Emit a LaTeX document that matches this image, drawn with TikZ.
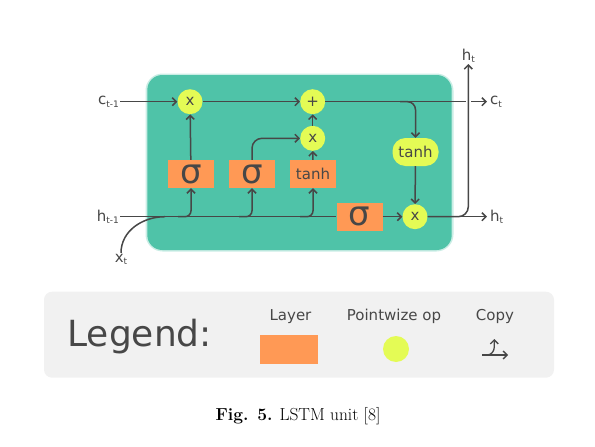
\documentclass[tikz,border=0pt]{standalone}
\usepackage{fontspec}
\usepackage{tikz}
\usetikzlibrary{arrows.meta}
\usepackage{xcolor}

\newfontfamily\diagfont{DejaVu Sans}
\newcommand{\lblsub}[1]{\raisebox{-0.3ex}{\fontsize{9}{9}\selectfont #1}}

\definecolor{cellteal}{HTML}{4FC3A8}
\definecolor{layerorange}{HTML}{FF9955}
\definecolor{opyellow}{HTML}{E4FB55}
\definecolor{inkgray}{HTML}{474747}
\definecolor{legendgray}{HTML}{F1F1F1}

\begin{document}
\begin{tikzpicture}[
  x=1pt, y=-1pt,
  >={Straight Barb[length=4pt,width=8pt]},
  every node/.style={font=\diagfont\fontsize{15}{15}\selectfont, text=inkgray},
  link/.style={draw=inkgray, line width=1.5pt},
  layer/.style={fill=layerorange, minimum width=46pt, minimum height=28pt, inner sep=0pt},
  sig/.style={layer, font=\diagfont\fontsize{34}{34}\selectfont},
  op/.style={circle, fill=opyellow, minimum size=25pt, inner sep=0pt},
  opbox/.style={fill=opyellow, rounded corners=13pt, minimum width=46pt, minimum height=28pt, inner sep=0pt},
  lbl/.style={inner sep=1pt}
]
\useasboundingbox (0,0) rectangle (595,447);

% Parameters (in pixel units)
\def\cy{101.7}   % cell state line
\def\hy{216.7}   % hidden state line

% --- Cell body ---
\fill[cellteal!30, rounded corners=17pt] (145.5,73.5) rectangle (453.5,251.5);
\fill[cellteal, rounded corners=15pt] (147.3,75) rectangle (451.7,250);

% --- Gates and pointwise ops ---
\node[op] (fgate) at (190,\cy) {x};
\node[op] (addop) at (312.7,\cy) {+};
\node[op] (inmul) at (312.7,138.3) {x};
\node[op] (outmul) at (415,\hy) {x};
\node[sig] (sigf) at (191,174) {σ};
\node[sig] (sigi) at (252,174) {σ};
\node[layer] (tanhin) at (313,174) {tanh};
\node[sig] (sigo) at (359.5,\hy) {σ};
\node[opbox] (tanhout) at (415.5,152) {tanh};

% --- In/out labels ---
\node[lbl, anchor=east] (cprev) at (120,\cy) {c\lblsub{t-1}};
\node[lbl, anchor=east] (hprev) at (120,\hy) {h\lblsub{t-1}};
\node[lbl, anchor=north] (xin) at (121,253) {x\lblsub{t}};
\node[lbl, anchor=west, inner sep=3pt] (cnext) at (487,\cy) {c\lblsub{t}};
\node[lbl, anchor=west, inner sep=3pt] (hnext) at (487,\hy) {h\lblsub{t}};
\node[lbl, anchor=south] (htop) at (468.3,64) {h\lblsub{t}};

% --- Taps on the lines ---
\coordinate (xjoin) at (165,\hy);
\coordinate (tapf) at (178,\hy);
\coordinate (tapi) at (239,\hy);
\coordinate (tapc) at (300,\hy);
\coordinate (csplit) at (400,\cy);
\coordinate (hcross) at (468.3,\cy);

% --- Cell state ---
\draw[link,->] (cprev.east) -- (fgate);
\draw[link,->] (fgate) -- (addop);
\draw[link,->] (addop) -- (cnext.west);
\draw[link,->, rounded corners=8pt] (csplit) -| (tanhout.north);

% --- Hidden state ---
\draw[link] (hprev.east) -- (sigo.west);
\draw[link] (xin.north) to[out=90, in=180] (xjoin);
\draw[link,->, rounded corners=6pt] (tapf) -| (sigf.south);
\draw[link,->, rounded corners=6pt] (tapi) -| (sigi.south);
\draw[link,->, rounded corners=6pt] (tapc) -| (tanhin.south);
\draw[link,->] (sigf) -- (fgate);
\draw[link,->, rounded corners=10pt] (sigi.north) |- (inmul.west);
\draw[link,->] (tanhin) -- (inmul);
\draw[link,->] (inmul) -- (addop);
\draw[link,->] (sigo) -- (outmul);
\draw[link,->] (tanhout) -- (outmul);
\draw[link,->] (outmul) -- (hnext.west);
\draw[white, line width=5pt] ([yshift=-5pt]hcross) -- ([yshift=5pt]hcross);
\draw[link,->, rounded corners=10pt] (outmul.east) -| (htop.south);

% --- Legend ---
\fill[legendgray, rounded corners=8pt] (44,291.7) rectangle (554,377.7);
\node[anchor=base west, font=\diagfont\fontsize{36}{36}\selectfont] (legtitle) at (64,346.7) {Legend:};
\node[anchor=base] (keylayertxt) at (290.5,320) {Layer};
\node[anchor=base] (keyoptxt) at (394,320) {Pointwize op};
\node[anchor=base] (keycopytxt) at (495,320) {Copy};
\node[layer, minimum width=58pt, minimum height=29pt] (keylayer) at (289,349.5) {};
\node[op, minimum size=26pt] (keyop) at (396,349) {};
\coordinate (keycopyA) at (482,355);
\coordinate (keycopyB) at (508,355);
\coordinate (keycopyC) at (487,355);
\coordinate (keycopyD) at (494.3,339);
\draw[link, line width=1.3pt, ->] (keycopyA) -- (keycopyB);
\draw[link, line width=1.3pt, ->] (keycopyC) to[out=0, in=-90] ([yshift=-8pt]keycopyD) -- (keycopyD);

% --- Caption ---
\node[anchor=base, text=black, font=\fontsize{17.4}{20}\selectfont] (caption) at (298,420) {\textbf{Fig. 5.} LSTM unit [8]};

\end{tikzpicture}
\end{document}
